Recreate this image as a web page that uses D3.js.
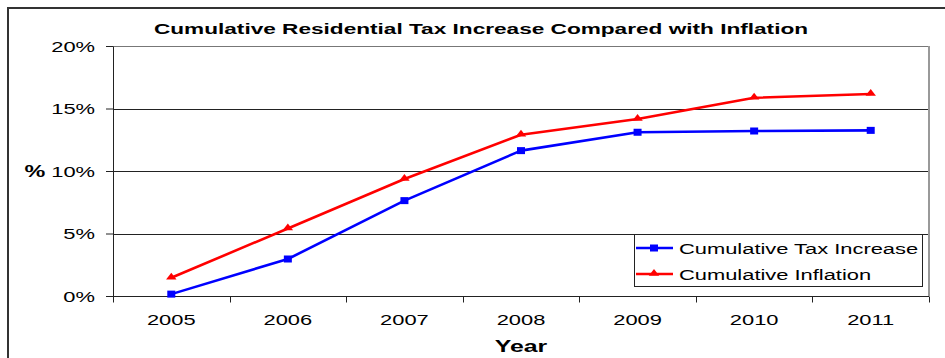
<!DOCTYPE html>
<html>
<head>
<meta charset="utf-8">
<script src="https://cdn.jsdelivr.net/npm/d3@7"></script>
<style>
  body { margin: 0; background: #fff; }
  text { font-family: "Liberation Sans", Arial, sans-serif; fill: #000; }
</style>
</head>
<body>
<svg id="chart"></svg>
<script>
const years = ['2005', '2006', '2007', '2008', '2009', '2010', '2011'];
const taxIncrease = [0.0015, 0.0296, 0.0763, 0.1163, 0.131, 0.132, 0.1325];
const inflation = [0.0146, 0.054, 0.0936, 0.129, 0.1416, 0.1586, 0.1616];
const yTicks = [0, 0.05, 0.1, 0.15, 0.2];
const seriesNames = ['Cumulative Tax Increase', 'Cumulative Inflation'];

const width = 945;
const height = 358;
const margin = { top: 46, right: 16, bottom: 62, left: 113 };
// the source image is stretched sideways, so text is too
const sx = 1.46;

const svg = d3.select('#chart')
  .attr('width', width)
  .attr('height', height);

const x = d3.scaleBand()
  .domain(years)
  .range([margin.left, width - margin.right])
  .padding(0);

const y = d3.scaleLinear()
  .domain([0, 0.2])
  .range([height - margin.bottom, margin.top]);

const stretch = sel => {
  sel.each(function () {
    const t = d3.select(this);
    const tx = +t.attr('x') || 0;
    const ty = +t.attr('y') || 0;
    t.attr('x', 0).attr('y', 0)
      .attr('transform', `translate(${tx},${ty}) scale(${sx},1)`);
  });
};

// outer frame
svg.append('rect')
  .attr('x', 8)
  .attr('y', 8)
  .attr('width', 1000)
  .attr('height', 1000)
  .attr('fill', 'none')
  .attr('stroke', '#333')
  .attr('stroke-width', 2);

// title
svg.append('text')
  .attr('x', 481)
  .attr('y', 34)
  .attr('text-anchor', 'middle')
  .attr('font-size', 15.5)
  .attr('font-weight', 'bold')
  .text('Cumulative Residential Tax Increase Compared with Inflation')
  .call(stretch);

// gridlines
svg.append('g')
  .selectAll('line')
  .data(yTicks.slice(1))
  .enter()
  .append('line')
  .attr('x1', margin.left)
  .attr('x2', width - margin.right)
  .attr('y1', d => Math.round(y(d)) + 0.5)
  .attr('y2', d => Math.round(y(d)) + 0.5)
  .attr('stroke', d => (d === 0.2 ? '#777' : '#222'))
  .attr('stroke-width', 1);

// right border of plot area
svg.append('line')
  .attr('x1', width - margin.right)
  .attr('x2', width - margin.right)
  .attr('y1', margin.top)
  .attr('y2', height - margin.bottom)
  .attr('stroke', '#999')
  .attr('stroke-width', 2);

// y axis
const yAxis = svg.append('g')
  .attr('transform', `translate(${margin.left},0)`)
  .call(d3.axisLeft(y)
    .tickValues(yTicks)
    .tickFormat(d3.format('.0%'))
    .tickSize(7)
    .tickSizeOuter(0)
    .tickPadding(11));
yAxis.select('.domain').attr('stroke', '#222');
yAxis.selectAll('.tick line').attr('stroke', '#222');
yAxis.selectAll('text')
  .attr('font-size', 15)
  .attr('font-family', '"Liberation Sans", Arial, sans-serif')
  .attr('dy', '0.36em')
  .call(stretch);

// x axis baseline and ticks at category boundaries
const baseY = Math.round(y(0)) + 0.5;
svg.append('line')
  .attr('x1', margin.left - 7)
  .attr('x2', width - margin.right)
  .attr('y1', baseY)
  .attr('y2', baseY)
  .attr('stroke', '#222');
svg.append('g')
  .selectAll('line')
  .data(d3.range(years.length + 1))
  .enter()
  .append('line')
  .attr('x1', i => Math.round(margin.left + i * x.step()) + 0.5)
  .attr('x2', i => Math.round(margin.left + i * x.step()) + 0.5)
  .attr('y1', baseY)
  .attr('y2', baseY + 6)
  .attr('stroke', '#222');

svg.append('g')
  .selectAll('text')
  .data(years)
  .enter()
  .append('text')
  .attr('x', d => x(d) + x.bandwidth() / 2)
  .attr('y', 325)
  .attr('text-anchor', 'middle')
  .attr('font-size', 15)
  .text(d => d)
  .call(stretch);

// axis titles
svg.append('text')
  .attr('x', (margin.left + width - margin.right) / 2)
  .attr('y', 352)
  .attr('text-anchor', 'middle')
  .attr('font-size', 17)
  .attr('font-weight', 'bold')
  .text('Year')
  .call(stretch);

svg.append('text')
  .attr('x', 35)
  .attr('y', 177)
  .attr('text-anchor', 'middle')
  .attr('font-size', 16)
  .attr('font-weight', 'bold')
  .text('%')
  .call(stretch);

// lines and markers
const cx = d => x(d) + x.bandwidth() / 2;
const line = d3.line()
  .x(d => cx(d.year))
  .y(d => y(d.value));

const series = [
  { name: seriesNames[0], color: '#0000ff', shape: 'square', values: years.map((yr, i) => ({ year: yr, value: taxIncrease[i] })) },
  { name: seriesNames[1], color: '#ff0000', shape: 'triangle', values: years.map((yr, i) => ({ year: yr, value: inflation[i] })) },
];

const tri = d3.symbol().type(d3.symbolTriangle).size(26);

const drawMarker = (g, s, px, py) => {
  if (s.shape === 'square') {
    g.append('rect')
      .attr('x', px - 4)
      .attr('y', py - 3.5)
      .attr('width', 8)
      .attr('height', 7)
      .attr('fill', s.color);
  } else {
    g.append('path')
      .attr('d', tri())
      .attr('transform', `translate(${px},${py - 0.5}) scale(1.35,1)`)
      .attr('fill', s.color);
  }
};

series.forEach(s => {
  svg.append('path')
    .datum(s.values)
    .attr('d', line)
    .attr('fill', 'none')
    .attr('stroke', s.color)
    .attr('stroke-width', 2.6)
    .attr('stroke-linejoin', 'round');
  const mg = svg.append('g');
  s.values.forEach(d => drawMarker(mg, s, cx(d.year), y(d.value)));
});

// legend
const legend = svg.append('g');
legend.append('rect')
  .attr('x', 634.5)
  .attr('y', 234.5)
  .attr('width', 288)
  .attr('height', 52)
  .attr('fill', '#fff')
  .attr('stroke', '#222')
  .attr('stroke-width', 1);

series.forEach((s, i) => {
  const ly = 248 + i * 26;
  legend.append('line')
    .attr('x1', 636)
    .attr('x2', 673)
    .attr('y1', ly)
    .attr('y2', ly)
    .attr('stroke', s.color)
    .attr('stroke-width', 2.6);
  drawMarker(legend, s, 654, ly);
  legend.append('text')
    .attr('x', 679)
    .attr('y', ly + 5.5)
    .attr('font-size', 15)
    .text(s.name)
    .call(stretch);
});
</script>
</body>
</html>
